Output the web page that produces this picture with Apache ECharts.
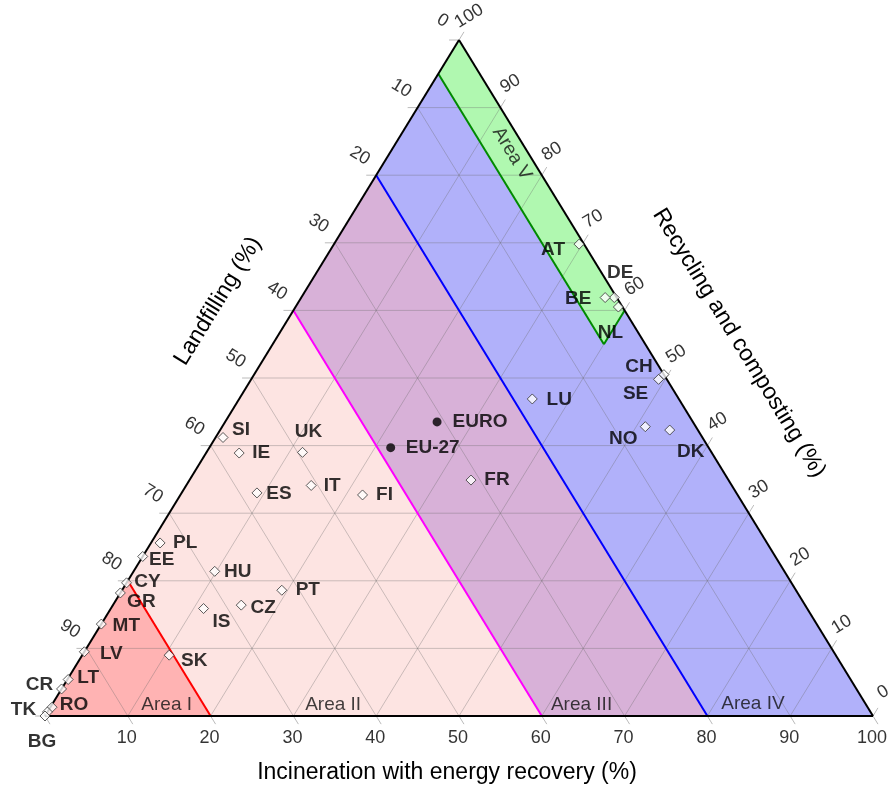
<!DOCTYPE html>
<html>
<head>
<meta charset="utf-8">
<script src="https://cdn.jsdelivr.net/npm/echarts/dist/echarts.min.js"></script>
<style>
  html, body { margin: 0; padding: 0; background: #ffffff; }
  #chart { width: 891px; height: 786px; }
</style>
</head>
<body>
<div id="chart"></div>
<script>
// Share of municipal waste by treatment route (%); landfilling = 100 - incineration - recycling
const countryCodes = ['AT', 'DE', 'BE', 'NL', 'CH', 'SE', 'NO', 'DK', 'LU', 'FR', 'FI', 'IT', 'ES', 'UK', 'IE', 'SI',
  'PL', 'EE', 'CY', 'GR', 'MT', 'LV', 'LT', 'CR', 'RO', 'TK', 'BG', 'HU', 'IS', 'CZ', 'PT', 'SK'];
const incinerationShare = [29.6, 37.8, 36.7, 39.0, 49.5, 49.2, 51.1, 54.3, 35.4, 34.0, 22.0, 15.1, 9.1, 11.6, 4.0, 0.9,
  1.1, 0.0, 0.0, 0.0, 0.0, 0.0, 0.1, 0.0, 0.2, 0.0, 0.0, 9.8, 11.2, 15.5, 19.3, 10.5];
const recyclingShare = [69.8, 61.9, 61.9, 60.5, 50.5, 49.8, 42.8, 42.3, 46.9, 34.9, 32.7, 34.1, 33.0, 39.0, 38.9, 41.2,
  25.6, 23.6, 19.7, 18.2, 13.6, 9.5, 5.4, 4.0, 1.3, 0.6, 0.0, 21.4, 15.9, 16.4, 18.6, 9.0];

// European averages
const aggregateNames = ['EURO', 'EU-27'];
const aggregateIncineration = [25.6, 21.9];
const aggregateRecycling = [43.5, 39.7];

// Axis ticks (%)
const tickValues = [0, 10, 20, 30, 40, 50, 60, 70, 80, 90, 100];

// Area boundaries expressed as landfilling thresholds (%)
const areaNames = ['Area I', 'Area II', 'Area III', 'Area IV', 'Area V'];
const landfillThresholds = [100, 80, 40, 20, 0];
const areaVLandfillMax = 5;
const areaVIncinerationMax = 40;

// ---------- layout / style ----------
const FONT = '"Liberation Sans", Arial, Helvetica, sans-serif';
const areaFill = ['#ffb3b3', '#fde4e2', '#d8b1d8', '#b1b1fa', '#b0f8b0'];
const boundaryColor = ['#ff0000', '#ff00ff', '#0000ff'];
const areaVEdge = '#008a00';
const gridColor = 'rgba(105,105,105,0.35)';
const TICK = 1.2; // tick length in axis units

// ternary (incineration, recycling) -> cartesian (x, y)
function toXY(inc, rec) { return [inc + rec / 2, rec]; }

// label centres relative to the marker (px)
const labelOffset = {
  AT: [-26, 6], DE: [6, -25], BE: [-27, 1], NL: [-8, 26], CH: [-25, -8], SE: [-23, 14],
  NO: [-22, 12], DK: [21, 22], LU: [27, 1], FR: [26, 0], FI: [22, 0], IT: [21, 0],
  ES: [22, 1], UK: [6, -21], IE: [22, 0], SI: [18, -8], PL: [25, 0], EE: [19, 3],
  CY: [21, -1], GR: [21, 9], MT: [25, 2], LV: [27, 2], LT: [20, -2], CR: [-22, -4],
  RO: [22, -2], TK: [-24, -2], BG: [-3, 26], HU: [23, 0], IS: [18, 13], CZ: [22, 3],
  PT: [26, 0], SK: [25, 6], EURO: [43, 0], 'EU-27': [42, 0]
};

// area caption anchors, ternary (incineration, recycling)
const areaLabelAt = [[13.9, 1.6], [34.0, 1.6], [64.0, 1.6], [84.6, 1.8], [14.8, 83.2]];

// ---------- geometry built from the arrays ----------
const bandPolys = [];
for (let k = 0; k < landfillThresholds.length - 1; k++) {
  const hi = landfillThresholds[k], lo = landfillThresholds[k + 1];
  bandPolys.push([[100 - hi, 0], [100 - lo, 0], [0, 100 - lo], [0, 100 - hi]]);
}
const areaVPoly = [
  [0, 100 - areaVLandfillMax], [0, 100],
  [areaVIncinerationMax, 100 - areaVIncinerationMax],
  [areaVIncinerationMax, 100 - areaVIncinerationMax - areaVLandfillMax]
];
const allPolys = bandPolys.concat([areaVPoly]);

const gridSegs = [];
const tickSegs = [];
tickValues.forEach(k => {
  if (k > 0 && k < 100) {
    gridSegs.push(toXY(0, k).concat(toXY(100 - k, k)));          // constant recycling
    gridSegs.push(toXY(k, 0).concat(toXY(k, 100 - k)));          // constant incineration
    gridSegs.push(toXY(0, 100 - k).concat(toXY(100 - k, 0)));    // constant landfilling
  }
  tickSegs.push(toXY(0, 100 - k).concat(toXY(-TICK, 100 - k)));        // left (landfilling)
  tickSegs.push(toXY(100 - k, k).concat(toXY(100 - k, k + TICK)));     // right (recycling)
  tickSegs.push(toXY(k, 0).concat(toXY(k + TICK, -TICK)));             // bottom (incineration)
});

const boundarySegs = [];
for (let k = 1; k < landfillThresholds.length - 1; k++) {
  const L = landfillThresholds[k];
  boundarySegs.push({ value: toXY(0, 100 - L).concat(toXY(100 - L, 0)), color: boundaryColor[k - 1] });
}
const areaVSegs = [
  { value: toXY(...areaVPoly[0]).concat(toXY(...areaVPoly[3])), color: areaVEdge },
  { value: toXY(...areaVPoly[3]).concat(toXY(...areaVPoly[2])), color: areaVEdge }
];
const frameSegs = [
  toXY(0, 0).concat(toXY(100, 0)),
  toXY(100, 0).concat(toXY(0, 100)),
  toXY(0, 100).concat(toXY(0, 0))
];

function segmentSeries(data, width, defaultColor, z) {
  return {
    type: 'custom', coordinateSystem: 'cartesian2d', z: z, silent: true, clip: false,
    data: data,
    renderItem: function (params, api) {
      const item = data[params.dataIndex];
      const v = Array.isArray(item) ? item : item.value;
      const p1 = api.coord([v[0], v[1]]);
      const p2 = api.coord([v[2], v[3]]);
      return {
        type: 'line',
        shape: { x1: p1[0], y1: p1[1], x2: p2[0], y2: p2[1] },
        style: { stroke: (item.color || defaultColor), lineWidth: width, lineCap: 'butt' }
      };
    }
  };
}

const polySeries = {
  type: 'custom', coordinateSystem: 'cartesian2d', z: 1, silent: true, clip: false,
  data: allPolys.map(p => toXY(...p[0])),
  renderItem: function (params, api) {
    const pts = allPolys[params.dataIndex].map(p => api.coord(toXY(p[0], p[1])));
    return { type: 'polygon', shape: { points: pts }, style: { fill: areaFill[params.dataIndex], stroke: null } };
  }
};

// invisible anchor markers that only carry a text label
const hiddenAnchor = { symbol: 'circle', symbolSize: 1, itemStyle: { color: 'rgba(0,0,0,0)' } };

function tickLabelSeries(points, offset, rotate) {
  return Object.assign({
    type: 'scatter', z: 6, silent: true, clip: false,
    data: points.map(p => ({ value: p.xy, name: String(p.t) })),
    label: { show: true, position: 'inside', formatter: '{b}', offset: offset, rotate: rotate,
      color: '#000000', fontFamily: FONT, fontSize: 18, textBorderWidth: 0 }
  }, hiddenAnchor);
}

// the bottom-left corner carries country labels, so the left scale stops at 90
const leftTicks = tickValues.filter(t => t < 100).map(t => ({ t: t, xy: toXY(0, 100 - t) }));
const rightTicks = tickValues.map(t => ({ t: t, xy: toXY(100 - t, t) }));
const bottomTicks = tickValues.filter(t => t > 0).map(t => ({ t: t, xy: toXY(t, 0) }));

const markLabel = { show: true, position: 'inside', formatter: '{b}', color: '#000000', fontFamily: FONT,
  fontSize: 19, fontWeight: 'bold', textBorderWidth: 0 };

const countrySeries = {
  type: 'scatter', symbol: 'diamond', symbolSize: 10, z: 8, clip: false, silent: true,
  itemStyle: { color: '#ffffff', borderColor: '#333333', borderWidth: 1 },
  data: countryCodes.map((c, i) => ({
    name: c, value: toXY(incinerationShare[i], recyclingShare[i]),
    label: { offset: labelOffset[c] }
  })),
  label: markLabel
};

const aggregateSeries = {
  type: 'scatter', symbol: 'circle', symbolSize: 9, z: 8, clip: false, silent: true,
  itemStyle: { color: '#000000' },
  data: aggregateNames.map((c, i) => ({
    name: c, value: toXY(aggregateIncineration[i], aggregateRecycling[i]),
    label: { offset: labelOffset[c] }
  })),
  label: markLabel
};

const areaLabelSeries = Object.assign({
  type: 'scatter', z: 7, silent: true, clip: false,
  data: areaNames.map((n, i) => ({
    name: n, value: toXY(areaLabelAt[i][0], areaLabelAt[i][1]),
    label: { rotate: i === 4 ? -58.5 : 0 }
  })),
  label: { show: true, position: 'inside', formatter: '{b}', color: '#111111', fontFamily: FONT,
    fontSize: 19, textBorderWidth: 0 }
}, hiddenAnchor);

const chart = echarts.init(document.getElementById('chart'), null, { renderer: 'canvas' });
chart.setOption({
  animation: false,
  backgroundColor: '#ffffff',
  grid: { left: 45, right: 18, top: 40, bottom: 70 },
  xAxis: { type: 'value', min: 0, max: 100, show: false },
  yAxis: { type: 'value', min: 0, max: 100, show: false },
  graphic: [
    { type: 'text', x: 447, y: 773, z: 10,
      style: { text: 'Incineration with energy recovery (%)', font: '23px ' + FONT, fill: '#000000',
        textAlign: 'center', textVerticalAlign: 'middle', align: 'center', verticalAlign: 'middle' } },
    { type: 'text', x: 218, y: 301, rotation: 58.5 * Math.PI / 180, z: 10,
      style: { text: 'Landfilling (%)', font: '23px ' + FONT, fill: '#000000',
        textAlign: 'center', textVerticalAlign: 'middle', align: 'center', verticalAlign: 'middle' } },
    { type: 'text', x: 739, y: 343, rotation: -58.5 * Math.PI / 180, z: 10,
      style: { text: 'Recycling and composting (%)', font: '23px ' + FONT, fill: '#000000',
        textAlign: 'center', textVerticalAlign: 'middle', align: 'center', verticalAlign: 'middle' } }
  ],
  series: [
    polySeries,
    segmentSeries(gridSegs, 1, gridColor, 2),
    segmentSeries(tickSegs, 1, 'rgba(140,140,140,0.6)', 2),
    segmentSeries(boundarySegs, 2, '#000', 3),
    segmentSeries(areaVSegs, 2, areaVEdge, 3),
    segmentSeries(frameSegs, 2, '#000000', 4),
    tickLabelSeries(leftTicks, [-24, -8], -31.5),
    tickLabelSeries(rightTicks, [21, -15], 31.5),
    tickLabelSeries(bottomTicks, [-1, 22], 0),
    areaLabelSeries,
    countrySeries,
    aggregateSeries
  ]
});
</script>
</body>
</html>
